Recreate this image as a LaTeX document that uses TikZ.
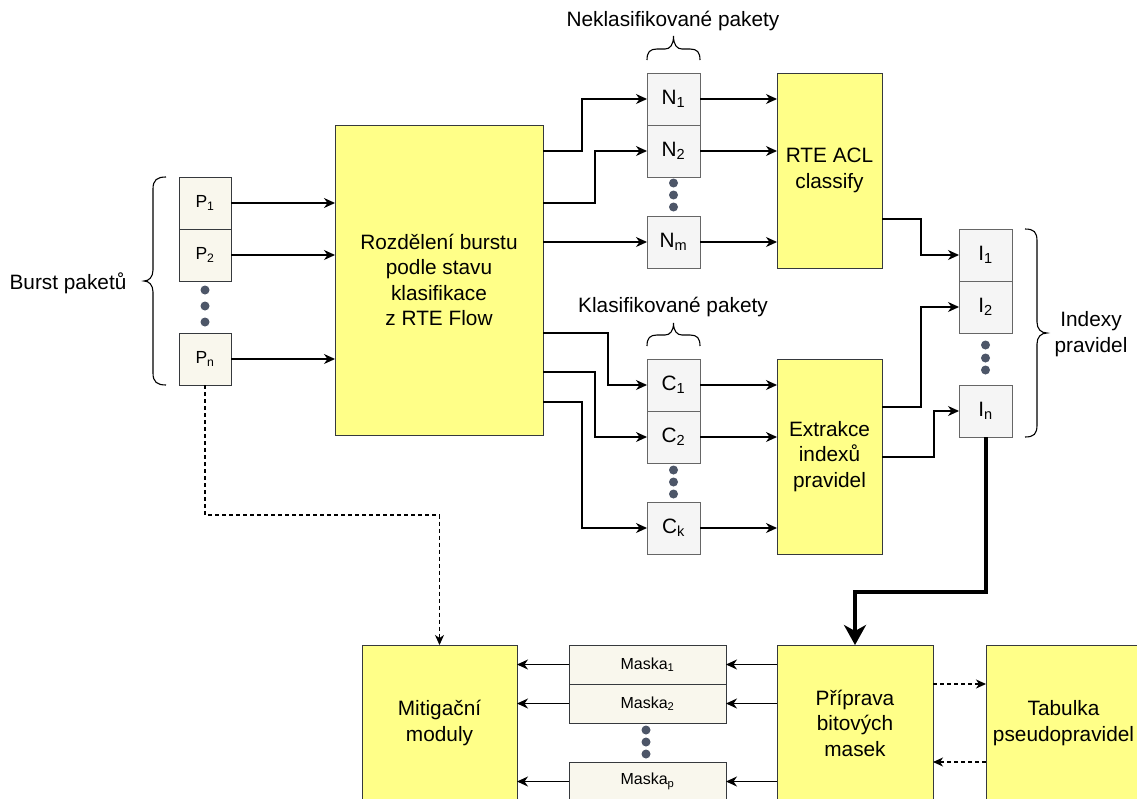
\documentclass[tikz,border=0pt]{standalone}
\usepackage{fontspec}
\setmainfont{Liberation Sans}
\usetikzlibrary{arrows.meta,calc}
\definecolor{yel}{HTML}{FFFF88}
\definecolor{yelstroke}{HTML}{36393D}
\definecolor{grayfill}{HTML}{F5F5F5}
\definecolor{graystroke}{HTML}{666666}
\definecolor{beige}{HTML}{F9F7ED}
\definecolor{dotc}{HTML}{4D5668}
\tikzset{
  box/.style={draw=yelstroke, fill=yel, line width=1pt, inner sep=0pt, outer sep=0pt, align=center, font=\fontsize{20.8}{25.5}\selectfont},
  pbox/.style={draw=yelstroke, fill=beige, line width=1pt, inner sep=0pt, outer sep=0pt, minimum width=52pt, minimum height=52pt, font=\fontsize{17.5}{20}\selectfont},
  gbox/.style={draw=graystroke, fill=grayfill, line width=1pt, inner sep=0pt, outer sep=0pt, minimum width=53pt, minimum height=52pt, font=\fontsize{20.8}{24}\selectfont},
  mbox/.style={draw=yelstroke, fill=beige, line width=1pt, inner sep=0pt, outer sep=0pt, minimum width=157pt, minimum height=39pt, font=\fontsize{16}{19}\selectfont},
  dotn/.style={circle, fill=dotc, inner sep=0pt, minimum size=9pt},
  arr/.style={line width=1.2pt, -{Stealth[length=11pt,width=10pt,inset=3.5pt]}},
  darr/.style={line width=1.1pt, dash pattern=on 4pt off 3pt, -{Stealth[length=10pt,width=9pt,inset=3pt]}},
  thickarr/.style={line width=4pt, -{Stealth[length=20pt,width=22pt,inset=6pt]}},
  lbl/.style={font=\fontsize{20.8}{25.5}\selectfont, align=center, inner sep=0pt},
  bracestyle/.style={line width=1.1pt},
}
\begin{document}
\begin{tikzpicture}[x=1pt,y=-1pt]
\useasboundingbox (0,0) rectangle (1137,798);
\fill[white] (0,0) rectangle (1137,798);

% P packets
\node[pbox] (P1) at (205,203) {P\textsubscript{1}};
\node[pbox] (P2) at (205,255) {P\textsubscript{2}};
\node[pbox] (Pn) at (205,359) {P\textsubscript{n}};
\node[dotn] (pd1) at (205,290) {};
\node[dotn] (pd2) at (205,306) {};
\node[dotn] (pd3) at (205,322) {};
\draw[bracestyle] (166,177) .. controls (157,177) and (153,180) .. (153,189) -- (153,270)
  .. controls (153,277) and (149,281) .. (144,281) .. controls (149,281) and (153,285) .. (153,292)
  -- (153,373) .. controls (153,382) and (157,385) .. (166,385);
\node[lbl] (burst) at (68,283) {Burst paketů};

% Split box
\node[box, minimum width=208pt, minimum height=310pt] (split) at (439,280) {Rozdělení burstu\\podle stavu\\klasifikace\\z RTE Flow};

% N packets
\node[gbox] (N1) at (673.5,99) {N\textsubscript{1}};
\node[gbox] (N2) at (673.5,151) {N\textsubscript{2}};
\node[gbox] (Nm) at (673.5,242) {N\textsubscript{m}};
\node[dotn] (nd1) at (673.5,183) {};
\node[dotn] (nd2) at (673.5,195) {};
\node[dotn] (nd3) at (673.5,207) {};
\draw[bracestyle] (647,60) .. controls (647,52) and (650,49) .. (657,49) -- (665,49)
  .. controls (670,49) and (673.5,45) .. (673.5,36) .. controls (673.5,45) and (677,49) .. (682,49)
  -- (690,49) .. controls (697,49) and (700,52) .. (700,60);
\node[lbl] (nlbl) at (673,21) {Neklasifikované pakety};

% RTE ACL
\node[box, minimum width=105pt, minimum height=195pt] (RTE) at (829.5,170.5) {RTE ACL\\classify};

% C packets
\node[gbox] (C1) at (673.5,385) {C\textsubscript{1}};
\node[gbox] (C2) at (673.5,437) {C\textsubscript{2}};
\node[gbox] (Ck) at (673.5,528) {C\textsubscript{k}};
\node[dotn] (cd1) at (673.5,470) {};
\node[dotn] (cd2) at (673.5,482) {};
\node[dotn] (cd3) at (673.5,494) {};
\draw[bracestyle] (647,346) .. controls (647,338) and (650,335) .. (657,335) -- (665,335)
  .. controls (670,335) and (673.5,331) .. (673.5,323) .. controls (673.5,331) and (677,335) .. (682,335)
  -- (690,335) .. controls (697,335) and (700,338) .. (700,346);
\node[lbl] (clbl) at (673,307) {Klasifikované pakety};

% Extrakce
\node[box, minimum width=105pt, minimum height=195pt] (Ext) at (829.5,456.5) {Extrakce\\indexů\\pravidel};

% I indexes
\node[gbox] (I1) at (985.5,255) {I\textsubscript{1}};
\node[gbox] (I2) at (985.5,307) {I\textsubscript{2}};
\node[gbox] (In) at (985.5,411) {I\textsubscript{n}};
\node[dotn] (id1) at (985.5,345) {};
\node[dotn] (id2) at (985.5,358) {};
\node[dotn] (id3) at (985.5,370) {};
\draw[bracestyle] (1025,229) .. controls (1034,229) and (1037,232) .. (1037,241) -- (1037,322)
  .. controls (1037,329) and (1041,333) .. (1047,333) .. controls (1041,333) and (1037,337) .. (1037,344)
  -- (1037,425) .. controls (1037,434) and (1034,437) .. (1025,437);
\node[lbl] (ilbl) at (1091,334) {Indexy\\pravidel};

% Bottom row
\node[box, minimum width=156pt, minimum height=156pt] (Prip) at (855,723) {Příprava\\bitových\\masek};
\node[box, minimum width=155pt, minimum height=156pt] (Tab) at (1063.5,723) {Tabulka\\pseudopravidel};
\node[box, minimum width=155pt, minimum height=156pt] (Mit) at (439.5,723) {Mitigační\\moduly};
\node[mbox] (M1) at (647.5,664.5) {Maska\textsubscript{1}};
\node[mbox] (M2) at (647.5,703.5) {Maska\textsubscript{2}};
\node[mbox] (Mp) at (647.5,781.5) {Maska\textsubscript{p}};
\node[dotn] (md1) at (646,730) {};
\node[dotn] (md2) at (646,742) {};
\node[dotn] (md3) at (646,754) {};

% P -> split
\draw[arr] (P1) -- (P1 -| split.west);
\draw[arr] (P2) -- (P2 -| split.west);
\draw[arr] (Pn) -- (Pn -| split.west);

% split -> N
\draw[arr] (split.east |- N2) -- ++(39,0) |- (N1);
\draw[arr] (split.east |- P1) -- ++(52,0) |- (N2);
\draw[arr] (split.east |- Nm) -- (Nm);

% N -> RTE
\draw[arr] (N1) -- (N1 -| RTE.west);
\draw[arr] (N2) -- (N2 -| RTE.west);
\draw[arr] (Nm) -- (Nm -| RTE.west);

% split -> C
\draw[arr] ($(split.east)+(0,53)$) -- ++(65,0) |- (C1);
\draw[arr] ($(split.east)+(0,92)$) -- ++(52,0) |- (C2);
\draw[arr] ($(split.east)+(0,122)$) -- ++(39,0) |- (Ck);

% C -> Ext
\draw[arr] (C1) -- (C1 -| Ext.west);
\draw[arr] (C2) -- (C2 -| Ext.west);
\draw[arr] (Ck) -- (Ck -| Ext.west);

% -> I
\draw[arr] ($(RTE.east)+(0,48.5)$) -- ++(39,0) |- (I1);
\draw[arr] ($(Ext.east)+(0,-49.5)$) -- ++(39,0) |- (I2);
\draw[arr] ($(Ext.east)+(0,0.5)$) -- ++(52,0) |- (In);

% thick
\draw[thickarr] (In.south) -- ++(0,155) -| (Prip.north);

% Prip <-> Tab
\draw[darr] ($(Prip.east)+(0,-39)$) -- ($(Tab.west)+(0,-39)$);
\draw[darr] ($(Tab.west)+(0,39)$) -- ($(Prip.east)+(0,39)$);

% Prip -> masks -> Mit
\draw[arr] (Prip.west |- M1) -- (M1);
\draw[arr] (Prip.west |- M2) -- (M2);
\draw[arr] (Prip.west |- Mp) -- (Mp);
\draw[arr] (M1) -- (M1 -| Mit.east);
\draw[arr] (M2) -- (M2 -| Mit.east);
\draw[arr] (Mp) -- (Mp -| Mit.east);

% Pn -> Mit dashed
\draw[darr] (Pn.south) -- ++(0,130) -| (Mit.north);
\end{tikzpicture}
\end{document}
